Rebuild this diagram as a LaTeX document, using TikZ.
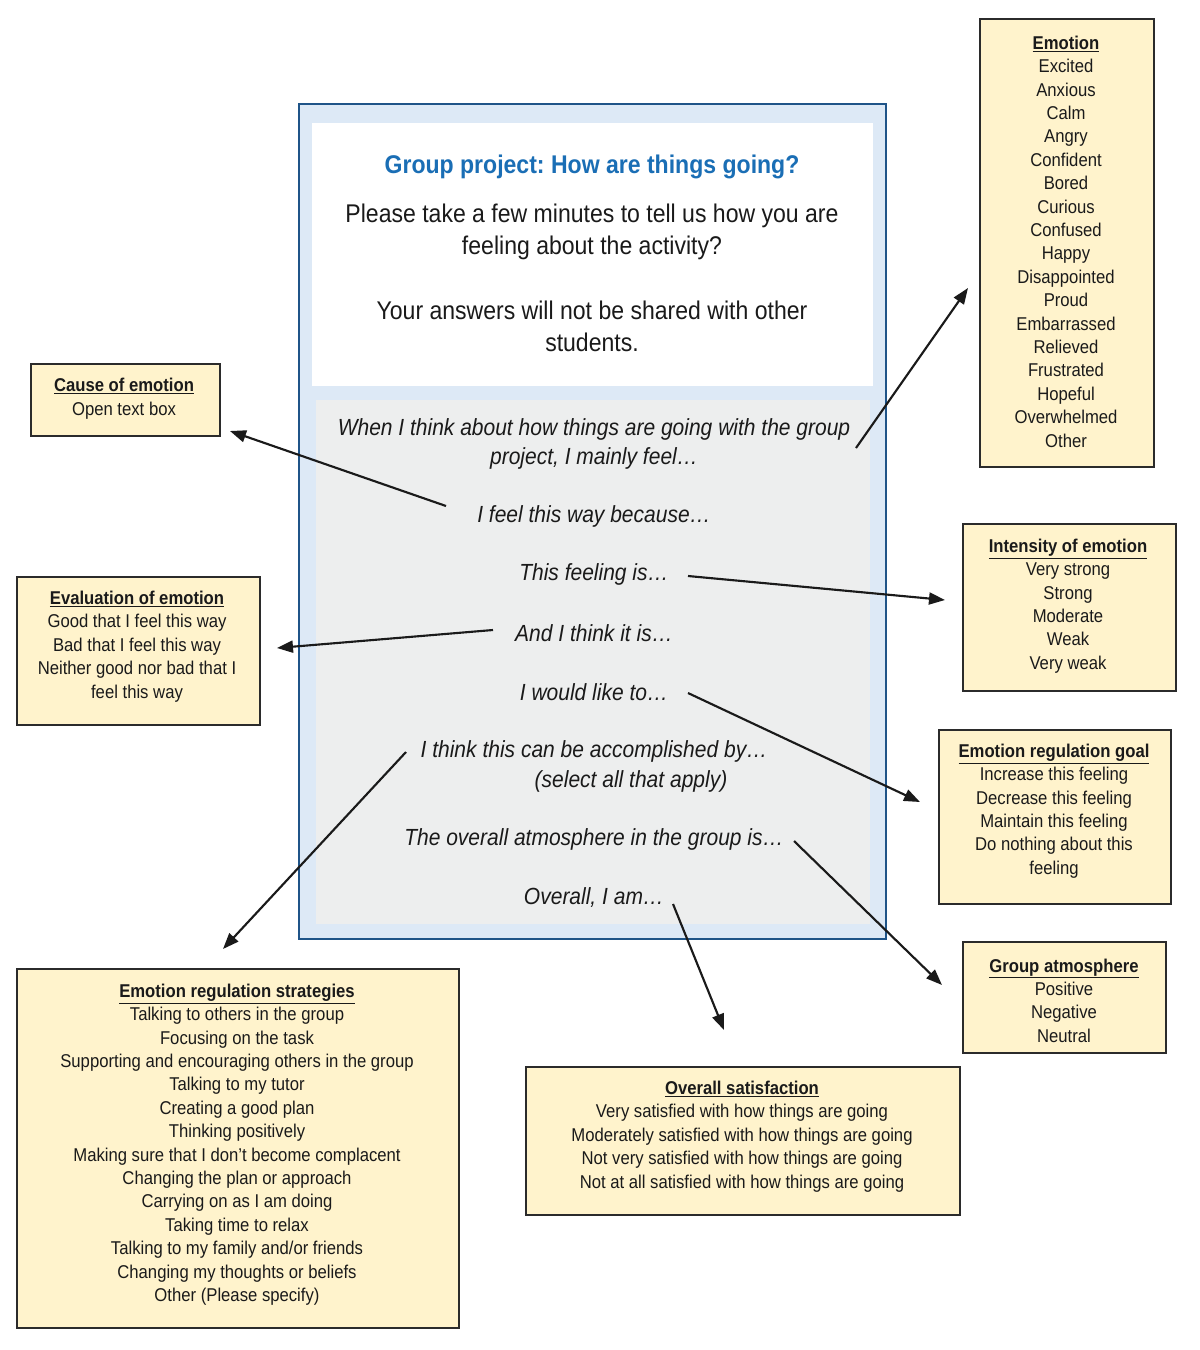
\documentclass[tikz,border=0pt]{standalone}
\usepackage{fontspec}
\setmainfont{Liberation Sans}[FakeStretch=0.9]
\usetikzlibrary{arrows.meta}
\definecolor{boxfill}{HTML}{FFF3CC}
\definecolor{boxline}{HTML}{2B2B2B}
\definecolor{panelline}{HTML}{1F5488}
\definecolor{panelfill}{HTML}{DDE9F6}
\definecolor{greyfill}{HTML}{EDEEEE}
\definecolor{titleblue}{HTML}{1A6EB5}
\definecolor{txt}{HTML}{1A1A1A}
\tikzset{
  ybox/.style={draw=boxline, fill=boxfill, line width=1.5pt, rectangle, inner sep=0pt, anchor=north west},
  btext/.style={align=center, inner sep=0pt, text=txt, font=\fontsize{13.9}{17.55}\selectfont},
  ptext/.style={align=center, inner sep=0pt, text=txt, font=\fontsize{19.2}{24}\selectfont},
  itext/.style={align=center, inner sep=0pt, text=txt, font=\fontsize{17.5}{21.75}\selectfont\itshape},
  arr/.style={draw=txt, line width=1.6pt, -{Triangle[length=12pt,width=9pt]}},
}
\newcommand{\bt}[1]{\underline{\textbf{#1}}}
\frenchspacing
\begin{document}
\begin{tikzpicture}[x=0.75pt,y=-0.75pt]
\useasboundingbox (0,0) rectangle (1200,1350);
\fill[white] (0,0) rectangle (1200,1350);
% central panel
\node[draw=panelline, fill=panelfill, line width=1.8pt, anchor=north west, minimum width=587*0.75pt, minimum height=835*0.75pt, inner sep=0pt] (panel) at (298,103) {};
\node[fill=white, anchor=north west, minimum width=561*0.75pt, minimum height=263*0.75pt, inner sep=0pt] (intro) at (312,123) {};
\node[fill=greyfill, anchor=north west, minimum width=554*0.75pt, minimum height=524*0.75pt, inner sep=0pt] (qs) at (316,400) {};
\node[ptext, text=titleblue, font=\fontsize{19.2}{24}\selectfont\bfseries] (title) at (592,167) {Group project: How are things going?};
\node[ptext] (p1) at (592,231.5) {Please take a few minutes to tell us how you are\\feeling about the activity?};
\node[ptext] (p2) at (592,326) {Your answers will not be shared with other\\students.};
\node[itext] (q1) at (594,443.5) {When I think about how things are going with the group\\project, I mainly feel…};
\node[itext] (q2) at (594,516) {I feel this way because…};
\node[itext] (q3) at (594,574) {This feeling is…};
\node[itext] (q4) at (594,633) {And I think it is…};
\node[itext] (q5) at (594,692) {I would like to…};
\node[itext] (q6a) at (594,751) {I think this can be accomplished by…};
\node[itext] (q6b) at (631,781) {(select all that apply)};
\node[itext] (q7) at (594,839) {The overall atmosphere in the group is…};
\node[itext] (q8) at (594,898) {Overall, I am…};
% boxes
\node[ybox, minimum width=174*0.75pt, minimum height=448*0.75pt] (emo) at (979,18) {};
\node[btext] (emot) at (1066,241.5) {\bt{Emotion}\\Excited\\Anxious\\Calm\\Angry\\Confident\\Bored\\Curious\\Confused\\Happy\\Disappointed\\Proud\\Embarrassed\\Relieved\\Frustrated\\Hopeful\\Overwhelmed\\Other};
\node[ybox, minimum width=189*0.75pt, minimum height=72*0.75pt] (cause) at (30,363) {};
\node[btext] (causet) at (124,398.5) {\bt{Cause of emotion}\\Open text box};
\node[ybox, minimum width=213*0.75pt, minimum height=167*0.75pt] (inten) at (962,523) {};
\node[btext] (intent) at (1068,606) {\bt{Intensity of emotion}\\Very strong\\Strong\\Moderate\\Weak\\Very weak};
\node[ybox, minimum width=243*0.75pt, minimum height=148*0.75pt] (eval) at (16,576) {};
\node[btext] (evalt) at (137,646.5) {\bt{Evaluation of emotion}\\Good that I feel this way\\Bad that I feel this way\\Neither good nor bad that I\\feel this way};
\node[ybox, minimum width=232*0.75pt, minimum height=174*0.75pt] (goal) at (938,729) {};
\node[btext] (goalt) at (1054,811) {\bt{Emotion regulation goal}\\Increase this feeling\\Decrease this feeling\\Maintain this feeling\\Do nothing about this\\feeling};
\node[ybox, minimum width=203*0.75pt, minimum height=111*0.75pt] (atmo) at (962,941) {};
\node[btext] (atmot) at (1064,1000.5) {\bt{Group atmosphere}\\Positive\\Negative\\Neutral};
\node[ybox, minimum width=434*0.75pt, minimum height=148*0.75pt] (sat) at (525,1066) {};
\node[btext] (satt) at (742,1136.5) {\bt{Overall satisfaction}\\Very satisfied with how things are going\\Moderately satisfied with how things are going\\Not very satisfied with how things are going\\Not at all satisfied with how things are going};
\node[ybox, minimum width=442*0.75pt, minimum height=359*0.75pt] (strat) at (16,968) {};
\node[btext] (stratt) at (237,1144.5) {\bt{Emotion regulation strategies}\\Talking to others in the group\\Focusing on the task\\Supporting and encouraging others in the group\\Talking to my tutor\\Creating a good plan\\Thinking positively\\Making sure that I don’t become complacent\\Changing the plan or approach\\Carrying on as I am doing\\Taking time to relax\\Talking to my family and/or friends\\Changing my thoughts or beliefs\\Other (Please specify)};
% arrow end points
\coordinate (s1) at (856,448); \coordinate (e1) at (968,288);
\coordinate (s2) at (446,506); \coordinate (e2) at (230,431);
\coordinate (s3) at (688,576); \coordinate (e3) at (945,600);
\coordinate (s4) at (493,630); \coordinate (e4) at (277,648);
\coordinate (s5) at (688,693); \coordinate (e5) at (920,802);
\coordinate (s6) at (406,752); \coordinate (e6) at (223,949);
\coordinate (s7) at (794,841); \coordinate (e7) at (942,985);
\coordinate (s8) at (673,904); \coordinate (e8) at (724,1030);
\draw[arr] (s1) -- (e1);
\draw[arr] (s2) -- (e2);
\draw[arr] (s3) -- (e3);
\draw[arr] (s4) -- (e4);
\draw[arr] (s5) -- (e5);
\draw[arr] (s6) -- (e6);
\draw[arr] (s7) -- (e7);
\draw[arr] (s8) -- (e8);
\end{tikzpicture}
\end{document}
